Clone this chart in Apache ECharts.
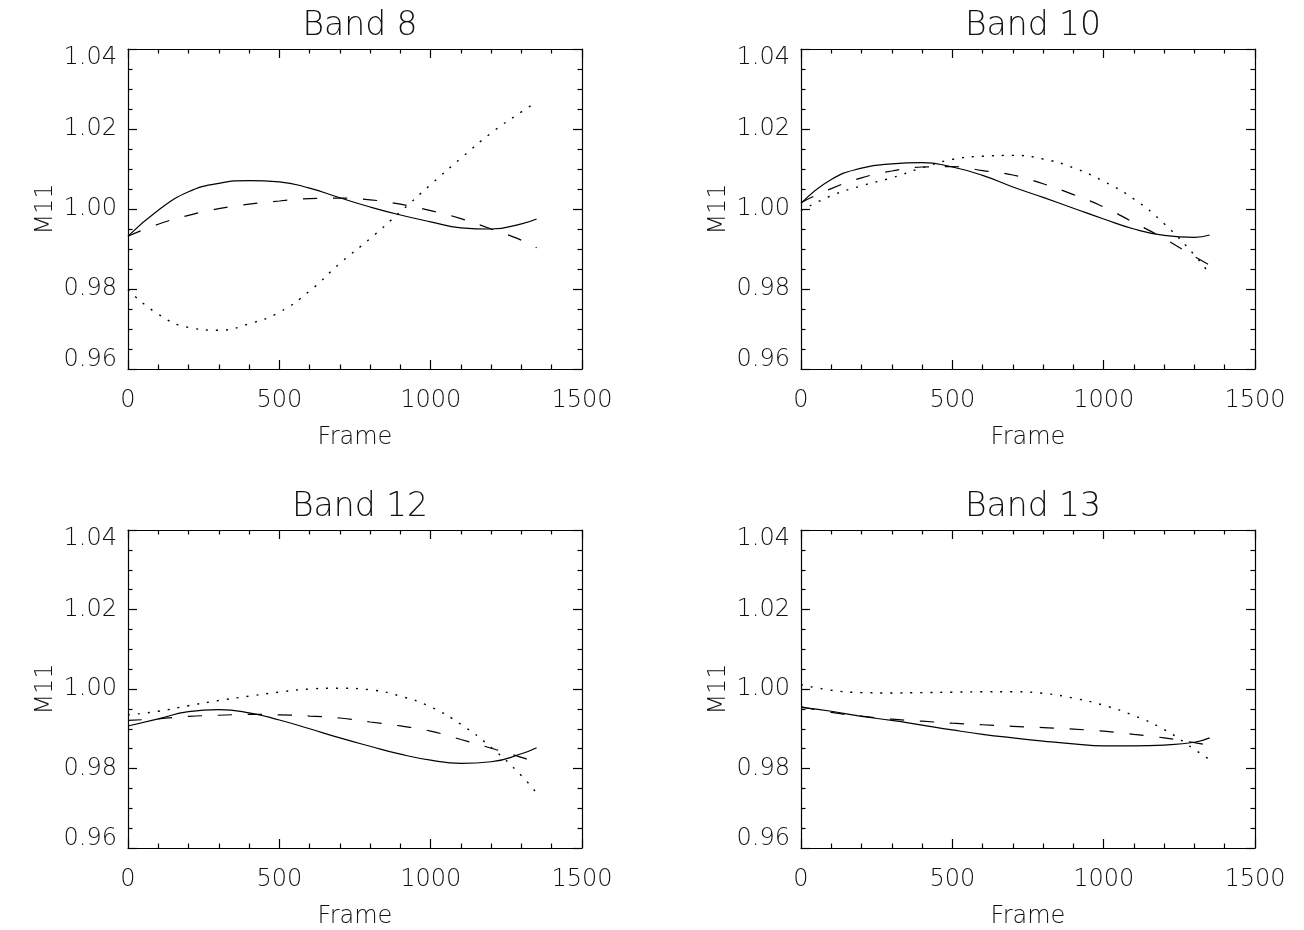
<!DOCTYPE html>
<html>
<head>
<meta charset="utf-8">
<script src="https://cdn.jsdelivr.net/npm/echarts@6/dist/echarts.min.js"></script>
<style>
html,body{margin:0;padding:0;background:#fff;}
#chart{width:1304px;height:930px;}
</style>
</head>
<body>
<div id="chart"></div>
<script>
// ---- data ----
const panelTitles = ['Band 8', 'Band 10', 'Band 12', 'Band 13'];
const yTickLabels = ['0.96', '0.98', '1.00', '1.02', '1.04'];
const xTickLabels = ['0', '500', '1000', '1500'];
const frames = [0, 100, 200, 300, 400, 500, 600, 700, 800, 900, 1000, 1100, 1200, 1300, 1350];

const band8Solid  = [0.9932, 0.9997, 1.0043, 1.0064, 1.0071, 1.0068, 1.0052, 1.0028, 1.0005, 0.9985, 0.9968, 0.9953, 0.9950, 0.9963, 0.9975];
const band8Dashed = [0.9932, 0.9962, 0.9984, 1.0001, 1.0012, 1.0020, 1.0026, 1.0027, 1.0023, 1.0012, 0.9996, 0.9976, 0.9950, 0.9922, 0.9903];
const band8Dotted = [0.9798, 0.9737, 0.9704, 0.9697, 0.9713, 0.9742, 0.9795, 0.9864, 0.9926, 0.9993, 1.0061, 1.0127, 1.0190, 1.0243, 1.0267];

const band10Solid  = [1.0014, 1.0074, 1.0102, 1.0113, 1.0116, 1.0105, 1.0084, 1.0055, 1.0029, 1.0002, 0.9975, 0.9950, 0.9934, 0.9929, 0.9935];
const band10Dashed = [1.0016, 1.0051, 1.0078, 1.0095, 1.0105, 1.0106, 1.0096, 1.0085, 1.0063, 1.0036, 1.0005, 0.9966, 0.9926, 0.9881, 0.9860];
const band10Dotted = [0.9996, 1.0033, 1.0058, 1.0078, 1.0103, 1.0124, 1.0132, 1.0134, 1.0125, 1.0103, 1.0069, 1.0025, 0.9963, 0.9885, 0.9838];

const band12Solid  = [0.9907, 0.9925, 0.9943, 0.9948, 0.9940, 0.9922, 0.9900, 0.9877, 0.9856, 0.9836, 0.9821, 0.9813, 0.9817, 0.9837, 0.9852];
const band12Dashed = [0.9921, 0.9925, 0.9931, 0.9934, 0.9936, 0.9935, 0.9932, 0.9927, 0.9917, 0.9907, 0.9894, 0.9873, 0.9851, 0.9828, 0.9815];
const band12Dotted = [0.9935, 0.9944, 0.9958, 0.9971, 0.9982, 0.9992, 1.0000, 1.0002, 0.9998, 0.9982, 0.9955, 0.9911, 0.9853, 0.9782, 0.9738];

const band13Solid  = [0.9954, 0.9944, 0.9931, 0.9921, 0.9909, 0.9897, 0.9886, 0.9877, 0.9869, 0.9862, 0.9857, 0.9857, 0.9859, 0.9866, 0.9877];
const band13Dashed = [0.9956, 0.9941, 0.9932, 0.9924, 0.9919, 0.9914, 0.9910, 0.9906, 0.9903, 0.9899, 0.9894, 0.9886, 0.9877, 0.9865, 0.9858];
const band13Dotted = [1.0011, 0.9997, 0.9991, 0.9990, 0.9991, 0.9992, 0.9993, 0.9993, 0.9989, 0.9977, 0.9959, 0.9933, 0.9898, 0.9848, 0.9822];

const panelSeries = [
  [band8Solid, band8Dashed, band8Dotted],
  [band10Solid, band10Dashed, band10Dotted],
  [band12Solid, band12Dashed, band12Dotted],
  [band13Solid, band13Dashed, band13Dotted]
];

// ---- layout ----
const FONT = 'DejaVu Sans';
const TXT = '#111';
const gridPos = [
  {left: 128, top: 49, width: 454, height: 320},
  {left: 801, top: 49, width: 454, height: 320},
  {left: 128, top: 530, width: 454, height: 320},
  {left: 801, top: 530, width: 454, height: 320}
];
const yMin = Number(yTickLabels[0]), yMax = Number(yTickLabels[yTickLabels.length - 1]);
const xMin = Number(xTickLabels[0]), xMax = Number(xTickLabels[xTickLabels.length - 1]);

const lineTypes = [
  {type: 'solid', width: 1.2},
  {type: [14, 16], width: 1.2},
  {type: [2, 8], width: 1.4}
];

const axisLine = {show: true, onZero: false, lineStyle: {color: '#000', width: 1.2}};

function yFmt(v) {
  const s = v.toFixed(2);
  if (Math.abs(v - yMax) < 1e-9) return '{top|' + s + '}';
  if (Math.abs(v - yMin) < 1e-9) return '{bot|' + s + '}';
  return '{n|' + s + '}';
}

const grids = [], xAxes = [], yAxes = [], series = [], titles = [];
gridPos.forEach((g, i) => {
  grids.push(Object.assign({containLabel: false}, g));
  titles.push({
    text: panelTitles[i],
    left: g.left + g.width / 2,
    textAlign: 'center',
    top: g.top - 44,
    textStyle: {fontFamily: FONT, fontSize: 33, fontWeight: 200, color: TXT}
  });
  const xCommon = {
    type: 'value', gridIndex: i, min: xMin, max: xMax, interval: 500,
    axisLine: axisLine,
    axisTick: {show: true, inside: true, length: 9, lineStyle: {color: '#000', width: 1.2}},
    minorTick: {show: true, splitNumber: 5, length: 4.5, lineStyle: {color: '#000', width: 1.2}},
    splitLine: {show: false}, minorSplitLine: {show: false}
  };
  xAxes.push(Object.assign({}, xCommon, {
    position: 'bottom',
    name: 'Frame', nameLocation: 'middle', nameGap: 57, nameMoveOverlap: false,
    nameTextStyle: {fontFamily: FONT, fontSize: 24, fontWeight: 200, color: TXT},
    axisLabel: {show: true, margin: 20, fontFamily: FONT, fontSize: 24, fontWeight: 200, color: TXT,
      formatter: v => String(v)}
  }));
  xAxes.push(Object.assign({}, xCommon, {position: 'top', axisLabel: {show: false}}));
  const yCommon = {
    type: 'value', gridIndex: i, min: yMin, max: yMax, interval: 0.02,
    axisLine: axisLine,
    axisTick: {show: true, inside: true, length: 9, lineStyle: {color: '#000', width: 1.2}},
    minorTick: {show: true, splitNumber: 4, length: 4.5, lineStyle: {color: '#000', width: 1.2}},
    splitLine: {show: false}, minorSplitLine: {show: false}
  };
  const rs = {fontFamily: FONT, fontSize: 24, fontWeight: 200, color: TXT};
  yAxes.push(Object.assign({}, yCommon, {
    position: 'left',
    name: 'M11', nameLocation: 'middle', nameGap: 70, nameMoveOverlap: false,
    nameTextStyle: {fontFamily: FONT, fontSize: 24, fontWeight: 200, color: TXT},
    axisLabel: {show: true, margin: 11, formatter: yFmt,
      rich: {
        n: rs,
        top: Object.assign({padding: [18, 0, 0, 0]}, rs),
        bot: Object.assign({padding: [0, 0, 18, 0]}, rs)
      }}
  }));
  yAxes.push(Object.assign({}, yCommon, {position: 'right', axisLabel: {show: false}}));

  panelSeries[i].forEach((vals, k) => {
    series.push({
      type: 'line',
      xAxisIndex: 2 * i, yAxisIndex: 2 * i,
      data: frames.map((f, j) => [f, vals[j]]),
      smooth: true,
      showSymbol: false,
      silent: true,
      lineStyle: {color: '#000', width: lineTypes[k].width, type: lineTypes[k].type},
      z: 3
    });
  });
});

const chart = echarts.init(document.getElementById('chart'), null, {renderer: 'canvas'});
chart.setOption({
  animation: false,
  backgroundColor: '#fff',
  title: titles,
  grid: grids,
  xAxis: xAxes,
  yAxis: yAxes,
  series: series
});
</script>
</body>
</html>
